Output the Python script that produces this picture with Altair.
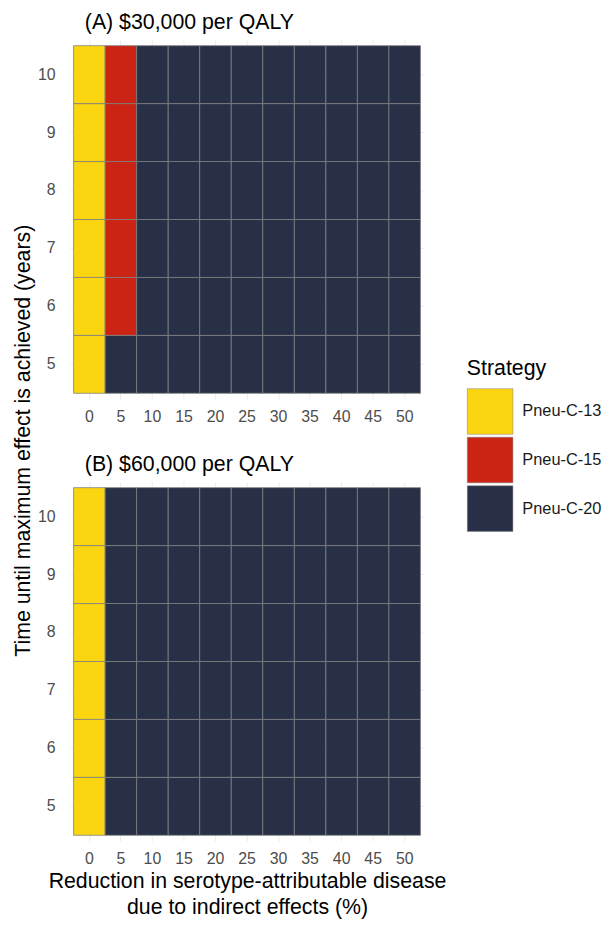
import altair as alt
import pandas as pd

reduction = [0, 5, 10, 15, 20, 25, 30, 35, 40, 45, 50]
years = [5, 6, 7, 8, 9, 10]
strategies = ["Pneu-C-13", "Pneu-C-15", "Pneu-C-20"]
colors = ["#FAD510", "#CB2314", "#273046"]

# Preferred strategy (valency) per year, across reduction levels 0..50
a_year5 = [13, 20, 20, 20, 20, 20, 20, 20, 20, 20, 20]
a_year6 = [13, 15, 20, 20, 20, 20, 20, 20, 20, 20, 20]
a_year7 = [13, 15, 20, 20, 20, 20, 20, 20, 20, 20, 20]
a_year8 = [13, 15, 20, 20, 20, 20, 20, 20, 20, 20, 20]
a_year9 = [13, 15, 20, 20, 20, 20, 20, 20, 20, 20, 20]
a_year10 = [13, 15, 20, 20, 20, 20, 20, 20, 20, 20, 20]

b_year5 = [13, 20, 20, 20, 20, 20, 20, 20, 20, 20, 20]
b_year6 = [13, 20, 20, 20, 20, 20, 20, 20, 20, 20, 20]
b_year7 = [13, 20, 20, 20, 20, 20, 20, 20, 20, 20, 20]
b_year8 = [13, 20, 20, 20, 20, 20, 20, 20, 20, 20, 20]
b_year9 = [13, 20, 20, 20, 20, 20, 20, 20, 20, 20, 20]
b_year10 = [13, 20, 20, 20, 20, 20, 20, 20, 20, 20, 20]

panel_a_rows = [a_year5, a_year6, a_year7, a_year8, a_year9, a_year10]
panel_b_rows = [b_year5, b_year6, b_year7, b_year8, b_year9, b_year10]


def build(rows):
    recs = []
    for yr, row in zip(years, rows):
        for r, v in zip(reduction, row):
            recs.append({"reduction": r, "year": yr, "strategy": f"Pneu-C-{v}"})
    return pd.DataFrame(recs)


df_a = build(panel_a_rows)
df_b = build(panel_b_rows)

W = 356.4
H = 362.5
SPACING = 83

legend = alt.Legend(
    title="Strategy",
    orient="none",
    legendX=400,
    legendY=321,
    symbolType="square",
    symbolSize=2116,
    rowPadding=0,
    labelFontSize=16.5,
    labelColor="#1A1A1A",
    labelOffset=9,
    titleFontSize=21.5,
    titleFontWeight="normal",
    titleColor="black",
    titlePadding=9,
    symbolStrokeColor="#7F7F7F",
    symbolStrokeWidth=0.5,
    symbolOpacity=1,
)


def panel(df, title, x_title, y_title):
    xaxis = alt.Axis(
        title=x_title,
        labelAngle=0,
        labelFontSize=16,
        labelColor="#4D4D4D",
        labelPadding=10,
        ticks=False,
        tickSize=0,
        domain=False,
        grid=True,
        gridColor="#EBEBEB",
        bandPosition=0.5,
        zindex=0,
        titleFontSize=21.5,
        titleFontWeight="normal",
        titleColor="black",
        titleLineHeight=26,
        titlePadding=4,
    )
    yaxis = alt.Axis(
        title=y_title,
        labelFontSize=16,
        labelColor="#4D4D4D",
        labelPadding=15.5,
        ticks=False,
        tickSize=0,
        domain=False,
        grid=True,
        gridColor="#EBEBEB",
        bandPosition=0.5,
        zindex=0,
        titleFontSize=21.5,
        titleFontWeight="normal",
        titleColor="black",
        titleAngle=270,
        titleX=-41,
        titleY=(2 * H + SPACING) / 2,
        titleBaseline="alphabetic",
        titleAlign="center",
    )
    return (
        alt.Chart(df)
        .mark_rect(stroke="#7F7F7F", strokeWidth=0.8)
        .encode(
            x=alt.X(
                "reduction:O",
                sort=reduction,
                scale=alt.Scale(paddingInner=0, paddingOuter=0.1),
                axis=xaxis,
            ),
            y=alt.Y(
                "year:O",
                sort="descending",
                scale=alt.Scale(paddingInner=0, paddingOuter=0.1),
                axis=yaxis,
            ),
            color=alt.Color(
                "strategy:N",
                scale=alt.Scale(domain=strategies, range=colors),
                legend=legend,
            ),
        )
        .properties(
            width=W,
            height=H,
            title=alt.TitleParams(
                text=title,
                anchor="start",
                dx=14.5,
                dy=23,
                fontSize=21.5,
                fontWeight="normal",
                color="black",
                baseline="alphabetic",
                offset=12,
                frame="group",
            ),
        )
    )


chart_a = panel(df_a, "(A) $30,000 per QALY", "", "Time until maximum effect is achieved (years)")
chart_b = panel(
    df_b,
    "(B) $60,000 per QALY",
    ["Reduction in serotype-attributable disease", "due to indirect effects (%)"],
    "",
)

chart = (
    alt.vconcat(chart_a, chart_b, spacing=SPACING, bounds="flush")
    .configure(font="Liberation Sans", padding={"left": 4, "top": 0, "right": 0, "bottom": 0})
    .configure_view(stroke=None)
)

chart.save("out.html", embed_options={"renderer": "svg", "actions": False})
